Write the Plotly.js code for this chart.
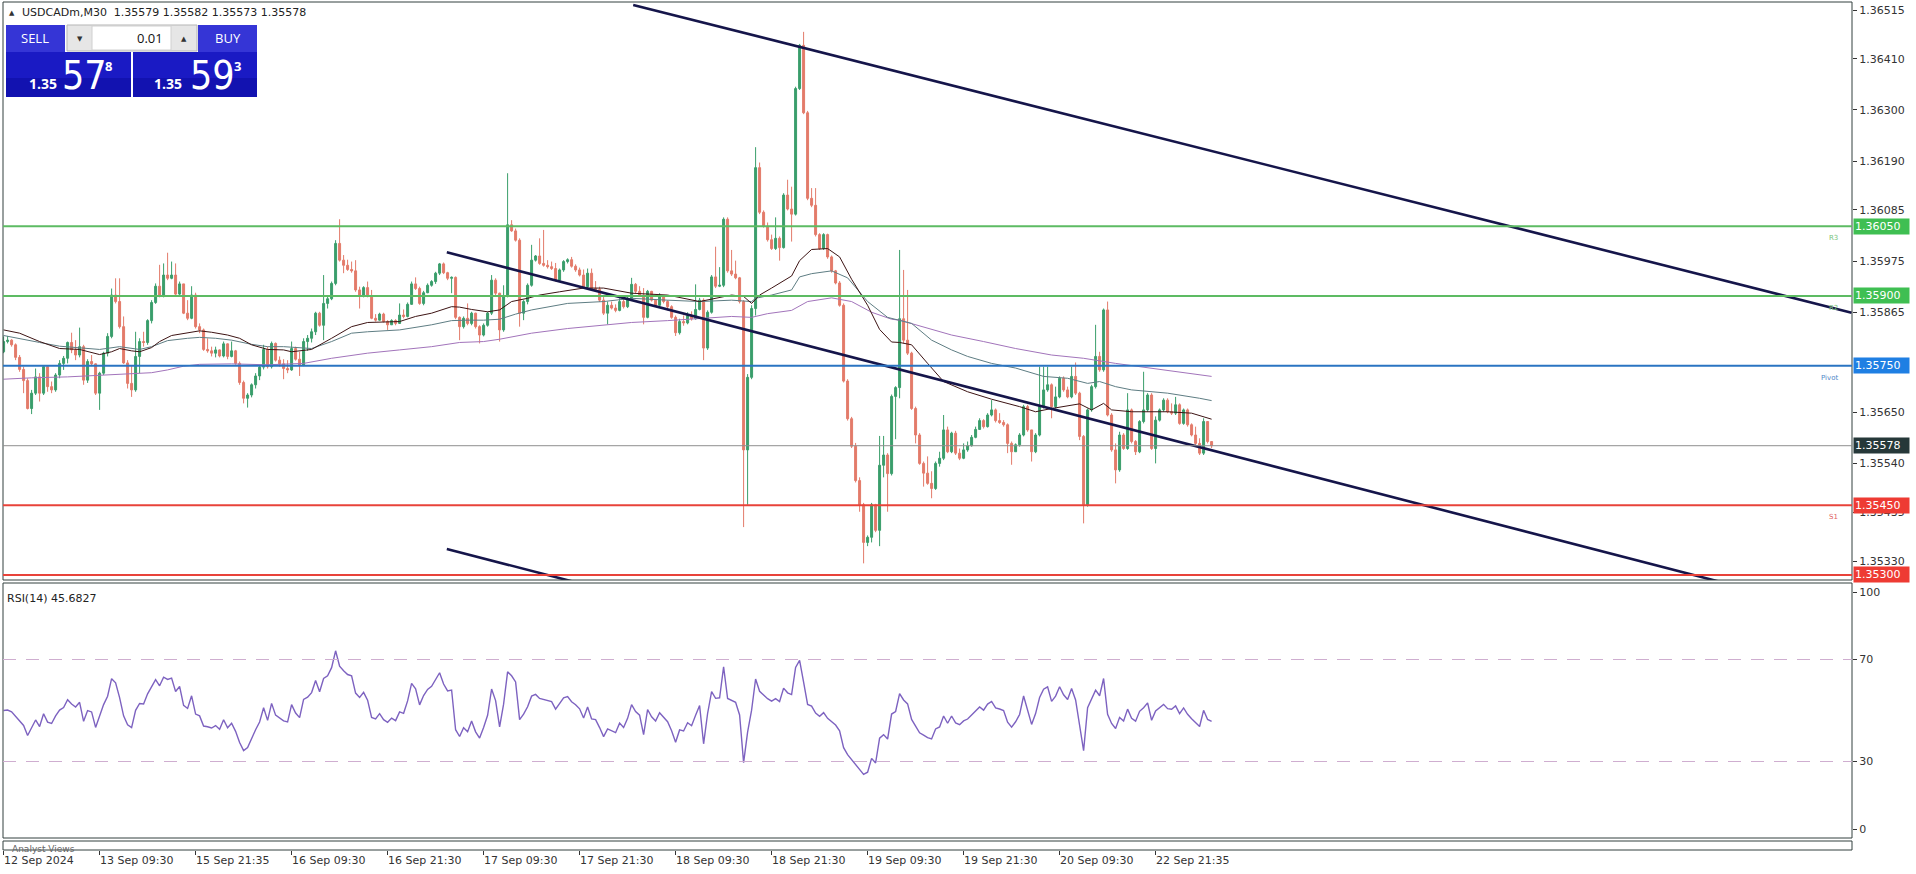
<!DOCTYPE html>
<html><head><meta charset="utf-8">
<script src="https://cdn.plot.ly/plotly-3.0.1.min.js"></script>
<style>html,body{margin:0;padding:0;background:#fff;overflow:hidden}#chart{width:1916px;height:874px}</style>
</head><body><div id="chart"></div>
<script>
// ---------------- DATA ----------------
const symbolLine = "USDCADm,M30\u00a0\u00a01.35579 1.35582 1.35573 1.35578";
const dateLabels = ["12 Sep 2024","13 Sep 09:30","15 Sep 21:35","16 Sep 09:30","16 Sep 21:30","17 Sep 09:30","17 Sep 21:30","18 Sep 09:30","18 Sep 21:30","19 Sep 09:30","19 Sep 21:30","20 Sep 09:30","22 Sep 21:35"];
const dateLabelBars = [0,24,48,72,96,120,144,168,192,216,240,264,288];
const firstOpen = 1.35780;
const closes = [
1.35802,1.35805,1.35795,1.35768,1.35742,1.35718,1.35658,1.35691,1.35726,1.35691,
1.35748,1.35705,1.35698,1.35730,1.35755,1.35766,1.35800,1.35784,1.35773,1.35791,
1.35719,1.35759,1.35754,1.35691,1.35734,1.35777,1.35813,1.35902,1.35888,1.35834,
1.35756,1.35712,1.35698,1.35770,1.35802,1.35800,1.35847,1.35886,1.35921,1.35900,
1.35945,1.35938,1.35945,1.35904,1.35926,1.35863,1.35852,1.35902,1.35834,1.35827,
1.35785,1.35782,1.35777,1.35784,1.35771,1.35797,1.35770,1.35782,1.35755,1.35714,
1.35680,1.35687,1.35709,1.35728,1.35747,1.35785,1.35748,1.35798,1.35762,1.35754,
1.35744,1.35741,1.35787,1.35764,1.35751,1.35802,1.35809,1.35823,1.35863,1.35837,
1.35884,1.35894,1.35927,1.36013,1.35977,1.35966,1.35957,1.35954,1.35913,1.35902,
1.35918,1.35899,1.35852,1.35848,1.35861,1.35845,1.35838,1.35847,1.35841,1.35859,
1.35856,1.35882,1.35926,1.35916,1.35884,1.35907,1.35923,1.35931,1.35949,1.35969,
1.35950,1.35938,1.35940,1.35854,1.35834,1.35852,1.35841,1.35863,1.35834,1.35816,
1.35837,1.35863,1.35934,1.35906,1.35827,1.35899,1.36053,1.36040,1.36020,1.35863,
1.35888,1.35923,1.35977,1.35986,1.35970,1.35966,1.35963,1.35959,1.35934,1.35956,
1.35974,1.35978,1.35964,1.35956,1.35945,1.35920,1.35949,1.35916,1.35914,1.35891,
1.35863,1.35880,1.35874,1.35869,1.35888,1.35877,1.35895,1.35925,1.35910,1.35902,
1.35854,1.35910,1.35891,1.35880,1.35899,1.35888,1.35877,1.35854,1.35821,1.35845,
1.35842,1.35858,1.35851,1.35871,1.35891,1.35788,1.35865,1.35941,1.35921,1.35923,
1.36065,1.35954,1.35947,1.35939,1.35888,1.35569,1.35725,1.35873,1.36176,1.36080,
1.36050,1.36021,1.36002,1.36024,1.36004,1.36117,1.36087,1.36076,1.36346,1.36439,
1.36294,1.36110,1.36095,1.36032,1.36002,1.36032,1.35984,1.35954,1.35928,1.35880,
1.35717,1.35636,1.35577,1.35503,1.35451,1.35370,1.35381,1.35451,1.35396,1.35536,
1.35558,1.35518,1.35684,1.35703,1.35851,1.35805,1.35777,1.35658,1.35601,1.35540,
1.35519,1.35497,1.35486,1.35540,1.35551,1.35612,1.35565,1.35605,1.35562,1.35551,
1.35569,1.35578,1.35596,1.35613,1.35632,1.35619,1.35644,1.35655,1.35632,1.35628,
1.35623,1.35583,1.35565,1.35580,1.35601,1.35662,1.35612,1.35565,1.35601,1.35662,
1.35698,1.35709,1.35662,1.35683,1.35723,1.35698,1.35683,1.35727,1.35691,1.35598,
1.35451,1.35655,1.35705,1.35770,1.35741,1.35870,1.35644,1.35569,1.35526,1.35601,
1.35572,1.35655,1.35587,1.35565,1.35630,1.35655,1.35687,1.35572,1.35633,1.35655,
1.35676,1.35651,1.35648,1.35666,1.35626,1.35655,1.35623,1.35601,1.35583,1.35562,
1.35630,1.35587,1.35578];
const highs = [
1.35813,1.35814,1.35807,1.35798,1.35773,1.35748,1.35723,1.35698,1.35744,1.35734,
1.35751,1.35749,1.35716,1.35734,1.35762,1.35771,1.35802,1.35821,1.35805,1.35832,
1.35795,1.35764,1.35773,1.35755,1.35737,1.35780,1.35820,1.35916,1.35938,1.35938,
1.35856,1.35762,1.35751,1.35823,1.35809,1.35823,1.35850,1.35891,1.35927,1.35967,
1.35970,1.35993,1.35974,1.35970,1.35931,1.35926,1.35891,1.35921,1.35907,1.35841,
1.35830,1.35809,1.35791,1.35791,1.35785,1.35802,1.35798,1.35802,1.35784,1.35759,
1.35718,1.35691,1.35712,1.35734,1.35751,1.35795,1.35791,1.35802,1.35800,1.35770,
1.35764,1.35762,1.35802,1.35791,1.35780,1.35809,1.35816,1.35830,1.35866,1.35866,
1.35945,1.35899,1.35931,1.36020,1.36065,1.35988,1.35978,1.35974,1.35977,1.35920,
1.35921,1.35931,1.35913,1.35861,1.35864,1.35864,1.35848,1.35850,1.35850,1.35884,
1.35871,1.35886,1.35931,1.35940,1.35920,1.35911,1.35927,1.35934,1.35952,1.35971,
1.35972,1.35952,1.35942,1.35942,1.35856,1.35856,1.35884,1.35866,1.35864,1.35837,
1.35841,1.35866,1.35945,1.35938,1.35907,1.35923,1.36164,1.36063,1.36045,1.36024,
1.35891,1.35927,1.36010,1.35988,1.36024,1.36042,1.35977,1.35974,1.35971,1.35959,
1.35977,1.35981,1.35984,1.35968,1.35961,1.35957,1.35959,1.35959,1.35932,1.35920,
1.35898,1.35888,1.35888,1.35882,1.35895,1.35896,1.35899,1.35939,1.35928,1.35921,
1.35917,1.35913,1.35911,1.35893,1.35906,1.35902,1.35891,1.35880,1.35858,1.35851,
1.35858,1.35865,1.35867,1.35925,1.35896,1.35895,1.35869,1.35945,1.36006,1.35962,
1.36069,1.36069,1.35999,1.35976,1.35941,1.35891,1.35732,1.35880,1.36220,1.36187,
1.36084,1.36058,1.36032,1.36069,1.36028,1.36121,1.36150,1.36135,1.36350,1.36442,
1.36468,1.36298,1.36132,1.36132,1.36035,1.36035,1.36034,1.35987,1.35956,1.35932,
1.35884,1.35721,1.35640,1.35584,1.35510,1.35455,1.35385,1.35455,1.35453,1.35599,
1.35599,1.35562,1.35688,1.35706,1.35999,1.35956,1.35913,1.35780,1.35662,1.35605,
1.35544,1.35555,1.35523,1.35544,1.35565,1.35644,1.35619,1.35608,1.35610,1.35572,
1.35583,1.35587,1.35601,1.35619,1.35637,1.35635,1.35648,1.35676,1.35658,1.35648,
1.35633,1.35626,1.35587,1.35583,1.35605,1.35666,1.35666,1.35612,1.35605,1.35748,
1.35748,1.35748,1.35712,1.35705,1.35727,1.35727,1.35705,1.35748,1.35757,1.35694,
1.35601,1.35658,1.35709,1.35838,1.35780,1.35873,1.35888,1.35648,1.35583,1.35608,
1.35605,1.35691,1.35658,1.35590,1.35633,1.35737,1.35691,1.35691,1.35641,1.35658,
1.35680,1.35680,1.35669,1.35683,1.35669,1.35658,1.35658,1.35626,1.35619,1.35594,
1.35637,1.35630,1.35587];
const lows = [
1.35777,1.35798,1.35791,1.35762,1.35737,1.35691,1.35656,1.35646,1.35687,1.35673,
1.35687,1.35694,1.35691,1.35694,1.35723,1.35741,1.35755,1.35777,1.35762,1.35768,
1.35709,1.35713,1.35749,1.35687,1.35655,1.35730,1.35770,1.35809,1.35884,1.35830,
1.35754,1.35701,1.35683,1.35694,1.35734,1.35791,1.35795,1.35841,1.35883,1.35897,
1.35897,1.35934,1.35936,1.35902,1.35902,1.35861,1.35848,1.35850,1.35830,1.35820,
1.35782,1.35778,1.35770,1.35768,1.35768,1.35768,1.35764,1.35768,1.35752,1.35709,
1.35669,1.35660,1.35682,1.35701,1.35719,1.35742,1.35744,1.35744,1.35759,1.35748,
1.35721,1.35734,1.35739,1.35761,1.35728,1.35749,1.35782,1.35800,1.35816,1.35834,
1.35805,1.35873,1.35891,1.35923,1.35974,1.35949,1.35954,1.35950,1.35909,1.35873,
1.35897,1.35897,1.35850,1.35845,1.35847,1.35843,1.35827,1.35838,1.35837,1.35840,
1.35852,1.35854,1.35881,1.35913,1.35881,1.35880,1.35906,1.35920,1.35926,1.35945,
1.35947,1.35934,1.35906,1.35850,1.35805,1.35830,1.35837,1.35837,1.35830,1.35798,
1.35813,1.35834,1.35859,1.35902,1.35802,1.35823,1.35897,1.36038,1.36017,1.35834,
1.35848,1.35882,1.35920,1.35974,1.35967,1.35963,1.35959,1.35956,1.35931,1.35932,
1.35952,1.35970,1.35961,1.35952,1.35942,1.35916,1.35916,1.35913,1.35911,1.35887,
1.35859,1.35839,1.35871,1.35865,1.35867,1.35873,1.35874,1.35893,1.35906,1.35899,
1.35839,1.35852,1.35888,1.35877,1.35879,1.35884,1.35869,1.35851,1.35814,1.35817,
1.35836,1.35839,1.35847,1.35849,1.35869,1.35762,1.35784,1.35862,1.35917,1.35919,
1.35919,1.35950,1.35943,1.35936,1.35884,1.35403,1.35451,1.35721,1.35858,1.36076,
1.36047,1.36017,1.35999,1.35999,1.35976,1.36002,1.36084,1.36017,1.36073,1.36343,
1.36291,1.36106,1.36091,1.36028,1.35999,1.35999,1.35980,1.35950,1.35925,1.35877,
1.35714,1.35632,1.35573,1.35499,1.35436,1.35325,1.35362,1.35370,1.35392,1.35362,
1.35510,1.35436,1.35514,1.35592,1.35680,1.35798,1.35773,1.35655,1.35583,1.35537,
1.35490,1.35494,1.35465,1.35483,1.35533,1.35547,1.35562,1.35562,1.35558,1.35547,
1.35549,1.35565,1.35576,1.35594,1.35612,1.35615,1.35617,1.35641,1.35628,1.35625,
1.35619,1.35562,1.35537,1.35565,1.35576,1.35598,1.35608,1.35544,1.35562,1.35598,
1.35658,1.35694,1.35637,1.35658,1.35680,1.35694,1.35680,1.35680,1.35687,1.35590,
1.35411,1.35447,1.35651,1.35701,1.35737,1.35737,1.35641,1.35565,1.35497,1.35522,
1.35569,1.35569,1.35583,1.35558,1.35562,1.35626,1.35651,1.35569,1.35540,1.35630,
1.35651,1.35648,1.35644,1.35644,1.35623,1.35623,1.35619,1.35598,1.35580,1.35558,
1.35558,1.35583,1.35573];

// moving averages at sample bars
const maFastBars = [0,4,9,14,19,24,27,29,32,34,37,39,42,46,49,52,56,59,62,66,70,72,74,77,82,87,91,99,103,107,112,114,117,121,124,127,131,134,139,145,150,157,166,174,182,185,187,189,192,197,199,202,206,209,212,216,219,222,224,227,231,235,241,247,254,258,262,266,269,272,275,277,282,291,297,302];
const maFastValues = [1.35827,1.35820,1.35802,1.35787,1.35785,1.35774,1.35780,1.35787,1.35782,1.35780,1.35789,1.35802,1.35815,1.35821,1.35825,1.35822,1.35816,1.35809,1.35795,1.35785,1.35784,1.35780,1.35782,1.35785,1.35809,1.35834,1.35843,1.35845,1.35856,1.35863,1.35877,1.35876,1.35871,1.35866,1.35870,1.35888,1.35895,1.35902,1.35909,1.35917,1.35917,1.35906,1.35902,1.35888,1.35902,1.35899,1.35884,1.35902,1.35917,1.35943,1.35976,1.36000,1.36002,1.35984,1.35936,1.35880,1.35828,1.35801,1.35800,1.35795,1.35755,1.35716,1.35694,1.35678,1.35662,1.35651,1.35658,1.35664,1.35668,1.35655,1.35669,1.35655,1.35651,1.35651,1.35648,1.35635];
const maMidBars = [0,4,9,14,19,24,29,34,37,41,46,49,53,57,62,66,70,75,77,82,87,91,99,107,112,116,120,124,128,132,141,150,157,166,174,182,187,188,192,197,199,202,207,211,216,221,224,227,232,237,241,247,253,260,266,271,274,278,282,291,299,302];
const maMidValues = [1.35815,1.35809,1.35800,1.35792,1.35789,1.35785,1.35791,1.35785,1.35791,1.35804,1.35809,1.35811,1.35809,1.35805,1.35796,1.35791,1.35791,1.35789,1.35787,1.35802,1.35820,1.35823,1.35827,1.35838,1.35847,1.35848,1.35848,1.35850,1.35861,1.35870,1.35884,1.35888,1.35895,1.35891,1.35888,1.35891,1.35888,1.35895,1.35902,1.35913,1.35941,1.35948,1.35954,1.35939,1.35888,1.35854,1.35848,1.35841,1.35805,1.35784,1.35770,1.35755,1.35745,1.35727,1.35723,1.35712,1.35716,1.35705,1.35698,1.35691,1.35680,1.35675];
const maSlowBars = [0,7,16,24,32,37,41,45,49,57,66,75,82,91,99,107,114,120,124,132,141,150,157,166,174,182,187,191,197,201,207,212,217,222,224,228,237,245,253,262,270,278,287,295,302];
const maSlowValues = [1.35721,1.35724,1.35726,1.35730,1.35734,1.35735,1.35741,1.35749,1.35753,1.35754,1.35752,1.35755,1.35766,1.35777,1.35784,1.35791,1.35800,1.35802,1.35807,1.35820,1.35830,1.35838,1.35843,1.35847,1.35852,1.35856,1.35854,1.35862,1.35869,1.35888,1.35896,1.35888,1.35865,1.35850,1.35848,1.35838,1.35816,1.35802,1.35787,1.35773,1.35766,1.35755,1.35744,1.35734,1.35727];

// drawn trend lines: [bar, price] anchors
const trendUpperBars = [157.4, 462]; const trendUpperPrices = [1.36526, 1.35864];
const trendMidBars   = [110.8, 462]; const trendMidPrices   = [1.35994, 1.35212];
const trendLowBars   = [110.8, 462]; const trendLowPrices   = [1.35356, 1.34574];

const priceTicks = [1.36515,1.36410,1.36300,1.36190,1.36085,1.35975,1.35865,1.35650,1.35540,1.35435,1.35330];
const levelPrices = [1.36050, 1.35900, 1.35750, 1.35450, 1.35300];
const levelNames  = ["R3", "R2", "Pivot", "S1", ""];
const currentPrice = 1.35578;
const rsiPeriod = 14;
const rsiLevels = [70, 30];
const rsiTickText = ["100", "70", "30", "0"];
const rsiLabel = "RSI(14) 45.6827";
const lotSize = "0.01";
const sellQuote = ["1.35", "57", "8"];
const buyQuote  = ["1.35", "59", "3"];

// ---------------- BUILD ----------------
const n = closes.length;
const idx = closes.map((_, i) => i);
const opens = closes.map((c, i) => i === 0 ? firstOpen : closes[i - 1]);

// RSI (Wilder) from the closes; the averages start from the mean absolute move of the first bars
let seed = 0;
for (let i = 1; i <= rsiPeriod; i++) seed += Math.abs(closes[i] - closes[i - 1]);
seed /= rsiPeriod;
let ag = seed, al = seed;
const rsi = [50];
for (let i = 1; i < n; i++) {
  const d = closes[i] - closes[i - 1];
  ag = (ag * (rsiPeriod - 1) + (d > 0 ? d : 0)) / rsiPeriod;
  al = (al * (rsiPeriod - 1) + (d < 0 ? -d : 0)) / rsiPeriod;
  rsi.push(al === 0 ? 100 : 100 - 100 / (1 + ag / al));
}

// frame geometry (pixels)
const L = 3, R = 1852, T = 2, B = 850;
const PW = R - L, PH = B - T;
const fx = p => (p - L) / PW;
const fy = p => (B - p) / PH;
const MAIN_BOTTOM = 580, RSI_TOP = 583, RSI_BOTTOM = 838, AV_TOP = 841;
const Y0PX = 10, Y0PRICE = 1.36515, PX_PER_PRICE = 46500;
const mainRange = [Y0PRICE - (MAIN_BOTTOM - Y0PX) / PX_PER_PRICE, Y0PRICE + (Y0PX - T) / PX_PER_PRICE];
const rsiPx = (RSI_BOTTOM - RSI_TOP) / 100;
const rsiTickVals = [100 - 9 / rsiPx, 70, 30, 9 / rsiPx];   // 100 and 0 labels sit just inside the pane
const barPx = 4, bar0Px = 3.6;
const xRange = [(L - bar0Px) / barPx, (R - bar0Px) / barPx];

const FONT = "DejaVu Sans, Verdana, sans-serif";
const UP = "#3a9e6b", DN = "#e37b6a";

const traces = [
  { type: "candlestick", x: idx, open: opens, high: highs, low: lows, close: closes,
    xaxis: "x", yaxis: "y", hoverinfo: "skip", whiskerwidth: 0,
    increasing: { line: { color: UP, width: 1 }, fillcolor: UP },
    decreasing: { line: { color: DN, width: 1 }, fillcolor: DN }, showlegend: false },
  { type: "scatter", mode: "lines", x: maSlowBars, y: maSlowValues, line: { color: "#a274bb", width: 1 }, hoverinfo: "skip", showlegend: false },
  { type: "scatter", mode: "lines", x: maMidBars, y: maMidValues, line: { color: "#5e7d83", width: 1 }, hoverinfo: "skip", showlegend: false },
  { type: "scatter", mode: "lines", x: maFastBars, y: maFastValues, line: { color: "#3d1414", width: 1 }, hoverinfo: "skip", showlegend: false },
  { type: "scatter", mode: "lines", x: trendUpperBars, y: trendUpperPrices, line: { color: "#15154a", width: 2.6 }, hoverinfo: "skip", showlegend: false },
  { type: "scatter", mode: "lines", x: trendMidBars, y: trendMidPrices, line: { color: "#15154a", width: 2.6 }, hoverinfo: "skip", showlegend: false },
  { type: "scatter", mode: "lines", x: trendLowBars, y: trendLowPrices, line: { color: "#15154a", width: 2.6 }, hoverinfo: "skip", showlegend: false },
  { type: "scatter", mode: "lines", x: idx, y: rsi, xaxis: "x", yaxis: "y2", line: { color: "#7d62c0", width: 1.4 }, hoverinfo: "skip", showlegend: false },
  { type: "scatter", mode: "lines", x: [0], y: [null], xaxis: "x", yaxis: "y3", hoverinfo: "skip", showlegend: false }
];

const levelColors = ["#5dbb63", "#5dbb63", "#2a74c2", "#e8433a", "#e8433a"];
const boxColors = ["#3fbf52", "#3fbf52", "#1f7fe3", "#ee3b33", "#ee3b33"];
const labelColors = ["#79c47d", "#79c47d", "#4f88c8", "#e06060", "#e06060"];

const shapes = [];
const annotations = [];

const frame = (y0, y1) => ({ type: "rect", xref: "paper", yref: "paper", x0: 0, x1: 1, y0: fy(y1), y1: fy(y0), line: { color: "#33403f", width: 1 }, fillcolor: "rgba(0,0,0,0)", layer: "above" });
shapes.push(frame(T, MAIN_BOTTOM), frame(RSI_TOP, RSI_BOTTOM), frame(AV_TOP, B));

levelPrices.forEach((p, i) => {
  shapes.push({ type: "line", xref: "paper", x0: 0, x1: 1, yref: "y", y0: p, y1: p, line: { color: levelColors[i], width: 2 }, layer: "above" });
  annotations.push({ xref: "paper", x: 1, xanchor: "left", xshift: 1, yref: "y", y: p, yanchor: "middle", text: p.toFixed(5),
    showarrow: false, bgcolor: boxColors[i], borderpad: 1, width: 53, align: "left", font: { family: FONT, size: 11, color: "#ffffff" } });
  if (levelNames[i]) annotations.push({ xref: "paper", x: fx(1840), xanchor: "right", yref: "y", y: p, yanchor: "middle", yshift: -12,
    text: levelNames[i], showarrow: false, font: { family: FONT, size: 7, color: labelColors[i] } });
});
shapes.push({ type: "line", xref: "paper", x0: 0, x1: 1, yref: "y", y0: currentPrice, y1: currentPrice, line: { color: "#8f8f8f", width: 1 }, layer: "above" });
annotations.push({ xref: "paper", x: 1, xanchor: "left", xshift: 1, yref: "y", y: currentPrice, yanchor: "middle", text: currentPrice.toFixed(5),
  showarrow: false, bgcolor: "#263839", borderpad: 1, width: 53, align: "left", font: { family: FONT, size: 11, color: "#ffffff" } });

rsiLevels.forEach(v => shapes.push({ type: "line", xref: "paper", x0: 0, x1: 1, yref: "y2", y0: v, y1: v, line: { color: "#cfaed0", width: 1, dash: "13px,10px" } }));

annotations.push({ xref: "paper", yref: "paper", x: fx(7), y: fy(13), xanchor: "left", yanchor: "middle", text: "\u25B2", showarrow: false, font: { family: FONT, size: 7, color: "#333" } });
annotations.push({ xref: "paper", yref: "paper", x: fx(20), y: fy(13), xanchor: "left", yanchor: "middle", text: symbolLine, showarrow: false, font: { family: FONT, size: 11, color: "#222" } });
annotations.push({ xref: "paper", yref: "paper", x: fx(5), y: fy(598), xanchor: "left", yanchor: "middle", text: rsiLabel, showarrow: false, font: { family: FONT, size: 11, color: "#222" } });
annotations.push({ xref: "paper", yref: "paper", x: fx(10), y: fy(849), xanchor: "left", yanchor: "middle", text: "Analyst Views", showarrow: false, font: { family: FONT, size: 9, color: "#666" } });

const rect = (x0, y0, x1, y1, fill, line) => shapes.push({ type: "rect", xref: "paper", yref: "paper", x0: fx(x0), x1: fx(x1), y0: fy(y1), y1: fy(y0), fillcolor: fill, line: line ? { color: line, width: 1 } : { width: 0 }, layer: "above" });
rect(6, 25, 65, 52, "#3535d6");
rect(6, 52, 131, 97, "#1a1ac4");
rect(6, 78, 131, 97, "#1212b0");
rect(198, 25, 257, 52, "#3535d6");
rect(133, 52, 257, 97, "#1a1ac4");
rect(133, 78, 257, 97, "#1212b0");
rect(67, 25, 197, 51, "#e6e6e6", "#b5b5b5");
rect(92, 26, 171, 50, "#ffffff", "#d0d0d0");
const txt = (x, y, s, size, color, anchor, weight, family) => annotations.push({ xref: "paper", yref: "paper", x: fx(x), y: fy(y), xanchor: anchor || "center", yanchor: "middle", text: s, showarrow: false,
  font: { family: family || "Open Sans, " + FONT, size: size, color: color, weight: weight || "normal" } });
txt(35, 38, "SELL", 13, "#ffffff");
txt(228, 38, "BUY", 13, "#ffffff");
txt(80, 38, "\u25BC", 7, "#333");
txt(184, 38, "\u25B2", 7, "#333");
txt(165, 38, lotSize, 13, "#111", "right");
const NARROW = "Liberation Sans Narrow, DejaVu Sans Condensed, sans-serif";
txt(27, 83, sellQuote[0], 14, "#ffffff", "left", "bold");
txt(60, 75, sellQuote[1], 39, "#ffffff", "left", "normal", NARROW);
txt(103, 66, sellQuote[2], 13, "#ffffff", "left", "bold");
txt(152, 83, buyQuote[0], 14, "#ffffff", "left", "bold");
txt(188, 75, buyQuote[1], 39, "#ffffff", "left", "normal", NARROW);
txt(232, 66, buyQuote[2], 13, "#ffffff", "left", "bold");

const layout = {
  width: 1916, height: 874,
  margin: { l: L, r: 1916 - R, t: T, b: 874 - B, pad: 0 },
  paper_bgcolor: "#ffffff", plot_bgcolor: "#ffffff",
  showlegend: false, hovermode: false, dragmode: false,
  xaxis: { type: "linear", range: xRange, anchor: "free", position: 0, showgrid: false, zeroline: false, showline: false,
    rangeslider: { visible: false }, tickvals: dateLabelBars, ticktext: dateLabels, ticks: "outside", ticklen: 4, tickcolor: "#333",
    ticklabelposition: "outside right", tickfont: { family: FONT, size: 11, color: "#333" } },
  yaxis: { domain: [fy(MAIN_BOTTOM), 1], range: mainRange, side: "right", anchor: "x", showgrid: false, zeroline: false, showline: false,
    tickvals: priceTicks, ticktext: priceTicks.map(v => v.toFixed(5)), ticks: "outside", ticklen: 4, tickcolor: "#333",
    tickfont: { family: FONT, size: 11, color: "#333" } },
  yaxis2: { domain: [fy(RSI_BOTTOM), fy(RSI_TOP)], range: [0, 100], side: "right", anchor: "x", showgrid: false, zeroline: false, showline: false,
    tickvals: rsiTickVals, ticktext: rsiTickText, ticks: "outside", ticklen: 4, tickcolor: "#333",
    tickfont: { family: FONT, size: 11, color: "#333" } },
  yaxis3: { domain: [0, fy(AV_TOP)], range: [0, 1], side: "right", anchor: "x", showgrid: false, zeroline: false, showticklabels: false, ticks: "" },
  shapes: shapes, annotations: annotations
};

Plotly.newPlot("chart", traces, layout, { staticPlot: true, displayModeBar: false });
</script>
</body></html>
